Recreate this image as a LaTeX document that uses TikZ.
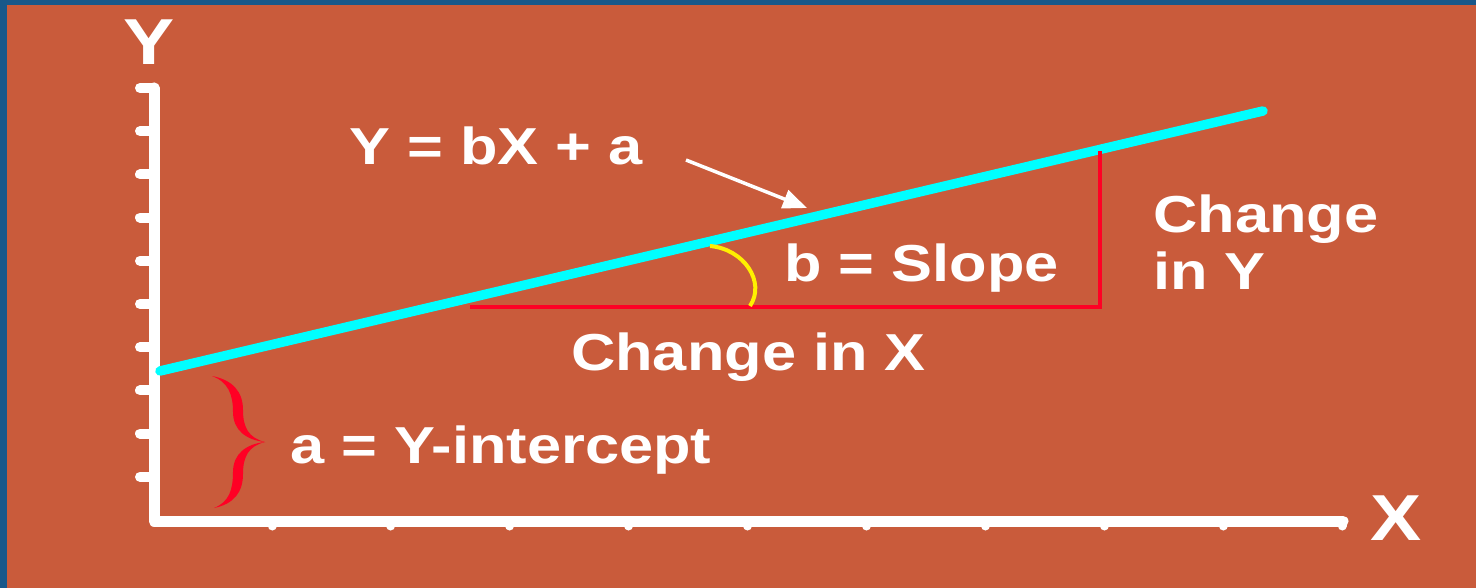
\documentclass[tikz,border=0pt]{standalone}
\usepackage{fontspec}
\setmainfont{Liberation Sans}[FakeStretch=1.18]
\usetikzlibrary{arrows.meta}
\definecolor{bluebg}{RGB}{24,88,138}
\definecolor{orangebg}{RGB}{201,91,59}
\definecolor{cyanline}{RGB}{0,255,255}
\definecolor{redline}{RGB}{255,0,36}
\definecolor{yellowarc}{RGB}{255,240,0}
\tikzset{
  axis/.style={white, line width=11pt, line cap=round, line join=round},
  ytick/.style={white, line width=10pt, line cap=round},
  xtick/.style={white, line width=9pt, line cap=round},
  lbl/.style={text=white, font=\bfseries\fontsize{52}{57}\selectfont, inner sep=0pt, anchor=base west},
  biglbl/.style={text=white, font=\bfseries\fontsize{65}{70}\selectfont, inner sep=0pt, anchor=base},
  regline/.style={cyanline, line width=9.5pt, line cap=round},
  leg/.style={redline, line width=4pt},
}
\begin{document}
\begin{tikzpicture}[x=1pt, y=-1pt]
\useasboundingbox (0,0) rectangle (1476,588);
\fill[bluebg] (0,0) rectangle (1476,588);
\fill[orangebg] (7,5) rectangle (1476,588);

% axes
\coordinate (ytop) at (154,88);
\coordinate (orig) at (154,521);
\coordinate (xend) at (1343,521);
\draw[axis] (ytop) -- (orig) -- (xend);
\foreach \k in {0,...,9} {
  \draw[ytick] (154,{88+43.2*\k}) -- (140,{88+43.2*\k});
}
\foreach \k in {0,...,9} {
  \draw[xtick] ({272+118.9*\k},521) -- ({272+118.9*\k},526);
}

% axis labels
\node[biglbl] (ylab) at (149,65) {Y};
\node[biglbl] (xlab) at (1396,540) {X};

% regression line
\coordinate (l0) at (160,371);
\coordinate (l1) at (1263,111);
\draw[regline] (l0) -- (l1);

% slope triangle
\coordinate (r0) at (470,307);
\coordinate (r1) at (1100,307);
\coordinate (r2) at (1100,151);
\draw[leg] (r0) -- (r1) -- (r2);

% angle arc
\coordinate (a0) at (710,246);
\coordinate (a1) at (750,306);
\draw[yellowarc, line width=4pt] (a0) .. controls (744,249) and (766,282) .. (a1);

% intercept brace
\fill[redline] (212,376) .. controls (233,380) and (243,392) .. (243,410)
  .. controls (243,428) and (249,438) .. (265,442)
  .. controls (246,440) and (233,430) .. (233,412)
  .. controls (233,394) and (228,382) .. (212,376) -- cycle;
\fill[redline] (214,508) .. controls (234,504) and (243,492) .. (243,474)
  .. controls (243,456) and (249,446) .. (265,442)
  .. controls (246,444) and (233,454) .. (233,472)
  .. controls (233,490) and (229,502) .. (214,508) -- cycle;

% labels
\node[lbl] (eq) at (349,165) {Y = bX + a};
\node[lbl] (slope) at (784,282) {b = Slope};
\node[lbl] (dx) at (571,370) {Change in X};
\node[lbl] (dy1) at (1153,233) {Change};
\node[lbl] (dy2) at (1153,290) {in Y};
\node[lbl] (icpt) at (290,463) {a = Y-intercept};

% arrow to the line
\coordinate (arrs) at (686,160);
\coordinate (arre) at (807,208);
\draw[white, line width=3.5pt, -{Triangle[length=24pt,width=19pt]}] (arrs) -- (arre);
\end{tikzpicture}
\end{document}
